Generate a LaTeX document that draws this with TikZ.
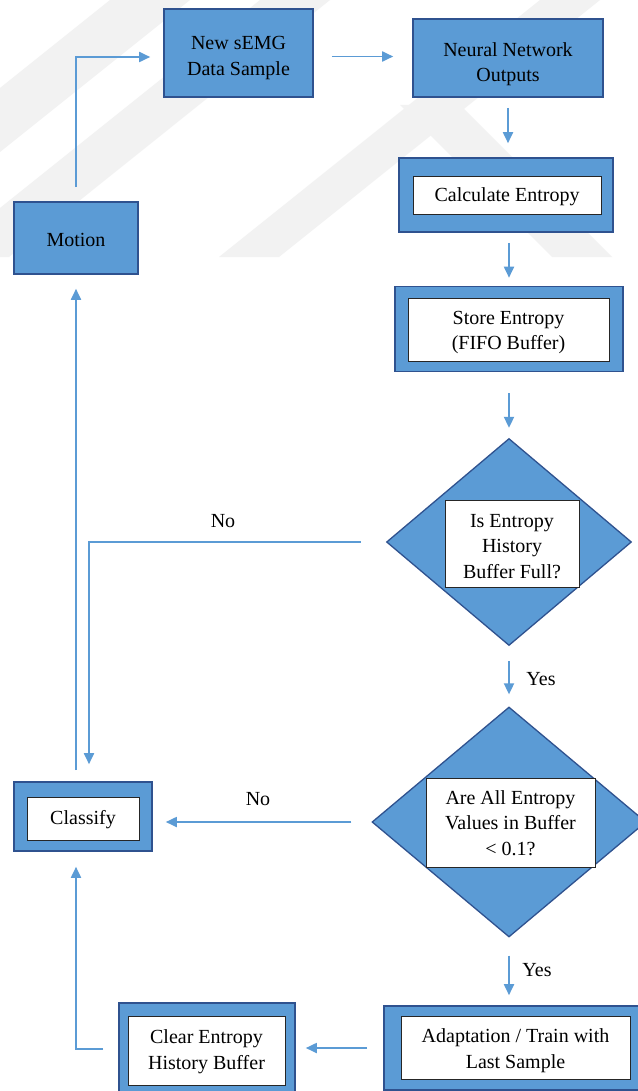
\documentclass[tikz,border=0pt]{standalone}
\usepackage{fontspec}
\setmainfont{Liberation Serif}
\usetikzlibrary{arrows.meta,shapes.geometric,calc}
\definecolor{boxblue}{HTML}{5B9BD5}
\definecolor{boxedge}{HTML}{2F528F}
\definecolor{arrowblue}{HTML}{5B9BD5}
\definecolor{wmgray}{HTML}{F2F2F2}
\begin{document}
\begin{tikzpicture}[x=1pt,y=-1pt,
  bluebox/.style={draw=boxedge, fill=boxblue, line width=1.6pt, inner sep=0pt},
  whitebox/.style={draw=black!85, fill=white, line width=0.9pt, inner sep=0pt},
  decision/.style={diamond, draw=boxedge, fill=boxblue, line width=1.3pt, inner sep=0pt},
  txt/.style={inner sep=0pt, align=center},
  arr/.style={draw=arrowblue, line width=1.8pt, -{Triangle[length=11pt,width=10pt]}},
  lbl/.style={inner sep=0pt, anchor=base},
  wm/.style={fill=wmgray, draw=none},
  font=\fontsize{20}{25.5}\selectfont]
\useasboundingbox (0,0) rectangle (637,1091);
\fill[white] (0,0) rectangle (637,1091);
% faint watermark bands
\path[wm] (110,0) -- (190,0) -- (0,152) -- (0,88) -- cycle;
\path[wm] (260,0) -- (330,0) -- (9,257) -- (0,257) -- (0,208) -- cycle;
\path[wm] (540,0) -- (600,0) -- (279,257) -- (219,257) -- cycle;
\path[wm] (400,105) -- (460,105) -- (612,257) -- (552,257) -- cycle;

% boxes
\node[bluebox, minimum width=124pt, minimum height=72pt] (motion) at (76,238) {};
\node[bluebox, minimum width=149pt, minimum height=88pt] (new) at (238.5,53) {};
\node[bluebox, minimum width=190pt, minimum height=78pt] (nn) at (508,58) {};
\node[bluebox, minimum width=214pt, minimum height=74pt] (calcO) at (506,195) {};
\node[whitebox, minimum width=188pt, minimum height=38pt] (calc) at (507,195) {};
\node[bluebox, minimum width=228pt, minimum height=85pt] (storeO) at (509,329) {};
\node[whitebox, minimum width=201pt, minimum height=63pt] (store) at (508.5,329.5) {};
\node[decision, minimum width=245pt, minimum height=207pt] (d1) at (509,542) {};
\node[whitebox, minimum width=134pt, minimum height=87pt] (q1) at (512,543.5) {};
\node[decision, minimum width=274pt, minimum height=230pt] (d2) at (509,822) {};
\node[whitebox, minimum width=169pt, minimum height=89pt] (q2) at (510.5,822.5) {};
\node[bluebox, minimum width=138pt, minimum height=69pt] (classO) at (83,816.5) {};
\node[whitebox, minimum width=112pt, minimum height=43pt] (class) at (83,818.5) {};
\node[bluebox, minimum width=176pt, minimum height=92pt] (clearO) at (207,1049) {};
\node[whitebox, minimum width=157pt, minimum height=69pt] (clear) at (206.5,1050.5) {};
\node[bluebox, minimum width=263pt, minimum height=84pt] (adaptO) at (515.5,1048) {};
\node[whitebox, minimum width=229pt, minimum height=63pt] (adapt) at (515.5,1047.5) {};

% texts
\node[txt] (motionT) at ([yshift=-2pt]motion.center) {Motion};
\node[txt] (newT) at ([yshift=-5pt]new.center) {New sEMG\\Data Sample};
\node[txt] (nnT) at ([yshift=-6pt]nn.center) {Neural Network\\Outputs};
\node[txt] (calcT) at ([yshift=-2pt]calc.center) {Calculate Entropy};
\node[txt] (storeT) at ([yshift=-3pt]store.center) {Store Entropy\\(FIFO Buffer)};
\node[txt] (q1T) at ([yshift=-3pt]q1.center) {Is Entropy\\History\\Buffer Full?};
\node[txt] (q2T) at ([yshift=-0.5pt]q2.center) {Are All Entropy\\Values in Buffer\\< 0.1?};
\node[txt] (classT) at ([yshift=-1pt]class.center) {Classify};
\node[txt] (clearT) at ([yshift=-1pt]clear.center) {Clear Entropy\\History Buffer};
\node[txt] (adaptT) at ([yshift=-3pt]adapt.center) {Adaptation / Train with\\Last Sample};

% labels
\node[lbl] (no1) at (223,527) {No};
\node[lbl] (no2) at (258,805) {No};
\node[lbl] (yes1) at (541,685) {Yes};
\node[lbl] (yes2) at (537,976) {Yes};

% connectors
\draw[arr, shorten <=14pt, shorten >=13pt] (motion.north) |- ([yshift=-4pt]new.west);
\draw[arr, shorten <=18pt, shorten >=19pt] ([yshift=-3.5pt]new.east) -- ([yshift=-3.5pt]new.east -| nn.west);
\draw[arr, shorten <=10pt, shorten >=14pt] (nn.south) -- (nn.south |- calcO.north);
\draw[arr, shorten <=10pt, shorten >=8pt] (storeO.north |- calcO.south) -- (storeO.north);
\draw[arr, shorten <=21pt, shorten >=10pt] (storeO.south) -- (d1.north);
\draw[arr, shorten <=25pt, shorten >=17pt] (d1.west) -| ($(classO.north)+(6,0)$);
\draw[arr, shorten <=15pt, shorten >=12pt] (d1.south) -- (d2.north);
\draw[arr, shorten <=20pt, shorten >=13pt] (d2.west) -- (d2.west -| classO.east);
\draw[arr, shorten <=18pt, shorten >=10pt] (d2.south) -- (d2.south |- adaptO.north);
\draw[arr, shorten <=16pt, shorten >=10pt] (adaptO.west) -- (adaptO.west -| clearO.east);
\draw[arr, shorten <=15pt, shorten >=15pt] (clearO.west) -| (classO.south -| motion.south);
\draw[arr, shorten <=11pt, shorten >=14pt] (classO.north -| motion.south) -- (motion.south);
\end{tikzpicture}
\end{document}
